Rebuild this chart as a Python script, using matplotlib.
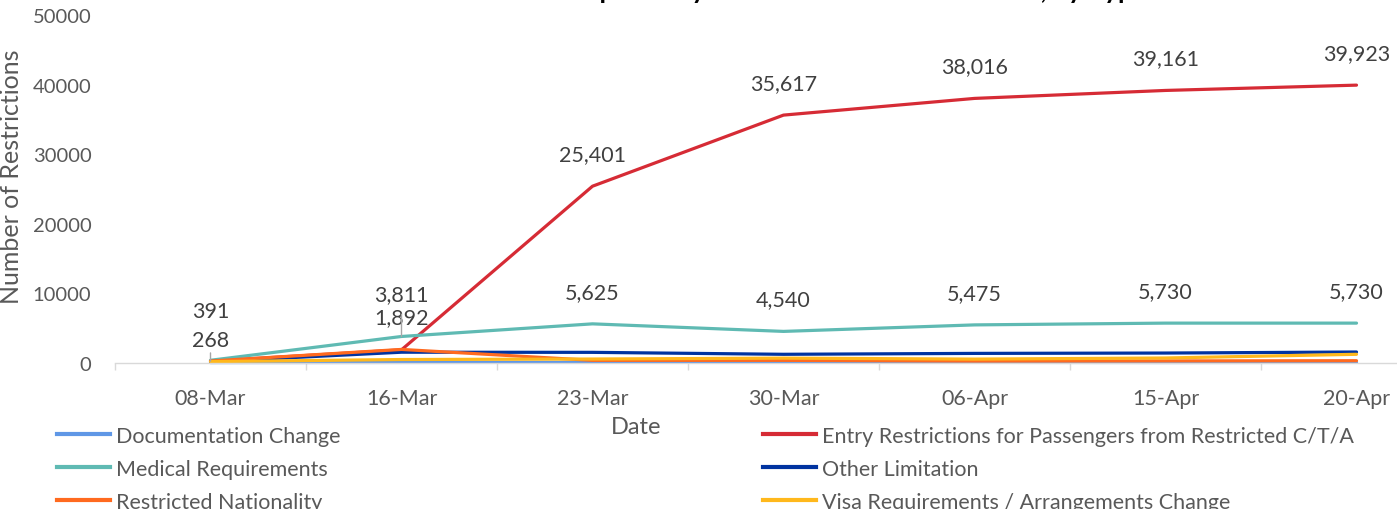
import matplotlib
matplotlib.use("Agg")
import matplotlib.pyplot as plt
from matplotlib.lines import Line2D

plt.rcParams['font.family'] = ['Lato', 'DejaVu Sans']

dates = ['08-Mar', '16-Mar', '23-Mar', '30-Mar', '06-Apr', '15-Apr', '20-Apr']
documentation = [60, 80, 90, 100, 90, 70, 90]
entry = [268, 1892, 25401, 35617, 38016, 39161, 39923]
medical = [391, 3811, 5625, 4540, 5475, 5730, 5730]
other = [200, 1550, 1530, 1250, 1380, 1430, 1580]
nationality = [280, 1950, 380, 380, 270, 300, 330]
visa = [200, 500, 570, 700, 560, 720, 1250]
yticks = [0, 10000, 20000, 30000, 40000, 50000]

series = [
    ('Documentation Change', documentation, '#5f97e6'),
    ('Entry Restrictions for Passengers from Restricted C/T/A', entry, '#d62b35'),
    ('Medical Requirements', medical, '#5fbab3'),
    ('Other Limitation', other, '#0033a0'),
    ('Restricted Nationality', nationality, '#ff6a1f'),
    ('Visa Requirements / Arrangements Change', visa, '#ffb81c'),
]

W, H = 1397, 510
fig = plt.figure(figsize=(W / 100, H / 100), dpi=100)
left, right = 115 / W, 1452 / W
bottom, top = 1 - 364 / H, 1 - 16 / H
ax = fig.add_axes([left, bottom, right - left, top - bottom])

x = list(range(len(dates)))
handles = {}
for name, vals, col in series:
    ln, = ax.plot(x, vals, color=col, lw=2.3, solid_capstyle='round',
                  solid_joinstyle='round', clip_on=False)
    handles[name] = ln

ax.set_xlim(-0.5, len(dates) - 0.5)
ax.set_ylim(0, 50000)
ax.set_yticks(yticks)
ax.set_yticklabels([str(v) for v in yticks])
ax.set_xticks(x)
ax.set_xticklabels(dates)
ax.set_xticks([i - 0.5 for i in range(len(dates) + 1)], minor=True)
ax.tick_params(axis='x', which='major', length=0, pad=18, labelsize=15.5, labelcolor='#595959')
ax.tick_params(axis='x', which='minor', length=5, width=1, color='#d9d9d9')
ax.tick_params(axis='y', length=0, pad=17, labelsize=14.5, labelcolor='#595959')
for s in ['top', 'right', 'left']:
    ax.spines[s].set_visible(False)
ax.spines['bottom'].set_color('#d9d9d9')
ax.spines['bottom'].set_linewidth(1)

lab_kw = dict(textcoords='offset pixels', ha='center', va='center',
              fontsize=15.5, color='#404040', annotation_clip=False)
for i in range(2, len(dates)):
    ax.annotate(f"{entry[i]:,}", (i, entry[i]), xytext=(0, 32), **lab_kw)
    ax.annotate(f"{medical[i]:,}", (i, medical[i]), xytext=(0, 32), **lab_kw)
ax.annotate(f"{medical[0]:,}", (0, medical[0]), xytext=(0, 49), **lab_kw)
ax.annotate(f"{entry[0]:,}", (0, entry[0]), xytext=(0, 21),
            arrowprops=dict(arrowstyle='-', color='#a6a6a6', lw=1, shrinkA=0, shrinkB=0),
            **lab_kw)
ax.annotate(f"{medical[1]:,}", (1, medical[1]), xytext=(0, 42), **lab_kw)
ax.annotate(f"{entry[1]:,}", (1, entry[1]), xytext=(0, 33), **lab_kw)
ax.annotate('', (1, medical[1]), xytext=(1, medical[1] + 3200),
            arrowprops=dict(arrowstyle='-', color='#a6a6a6', lw=1, shrinkA=0, shrinkB=0),
            annotation_clip=False)

fig.text(12 / W, 1 - 177 / H, 'Number of Restrictions', rotation=90, ha='center', va='center',
         fontsize=18, color='#595959')
fig.text(636 / W, 1 - 428 / H, 'Date', ha='center', va='center', fontsize=17, color='#595959')
fig.text(745 / W, 1 + 1 / H, 'Travel Restrictions Imposed by Countries/Territories/Areas, by Type',
         ha='center', va='baseline', fontsize=19, fontweight='bold', color='#000000')

col1 = ['Documentation Change', 'Medical Requirements', 'Restricted Nationality']
col2 = ['Entry Restrictions for Passengers from Restricted C/T/A', 'Other Limitation',
        'Visa Requirements / Arrangements Change']
leg_kw = dict(loc='upper left', frameon=False, fontsize=15.5, labelcolor='#595959',
              handlelength=2.45, handletextpad=0.3, labelspacing=0.6, borderpad=0,
              borderaxespad=0)
for names, xpos in [(col1, 57 / W), (col2, 763 / W)]:
    hs = [Line2D([0], [0], color=handles[n].get_color(), lw=3) for n in names]
    fig.legend(hs, names, bbox_to_anchor=(xpos, 1 - 427 / H), **leg_kw)

fig.savefig('out.png', dpi=100)
